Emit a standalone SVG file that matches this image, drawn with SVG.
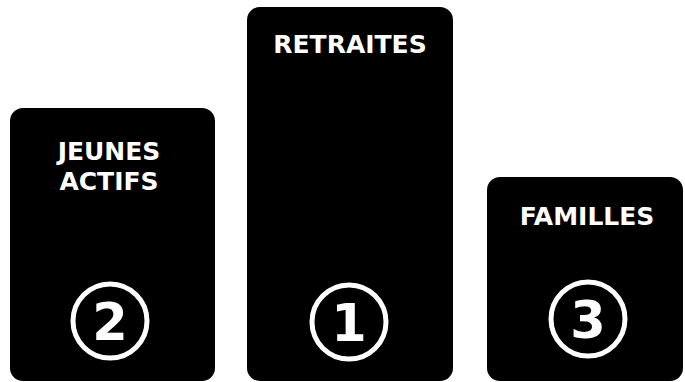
<svg xmlns="http://www.w3.org/2000/svg" width="685" height="382" viewBox="0 0 685 382">
<style>
.box{fill:#000}
.lbl{fill:#fff;font-family:"DejaVu Sans",Verdana,sans-serif;font-weight:bold;font-size:25px;text-anchor:middle}
.ring{fill:none;stroke:#fff;stroke-width:5}
.num{fill:#fff;font-family:"DejaVu Sans",Verdana,sans-serif;font-weight:bold;font-size:51px;text-anchor:middle}
</style>
<rect width="685" height="382" fill="#fff"/>
<g id="node-jeunes-actifs">
<rect class="box" x="10" y="108" width="205" height="273" rx="13"/>
<text class="lbl" x="109" y="160">JEUNES</text>
<text class="lbl" x="109" y="190">ACTIFS</text>
<circle class="ring" cx="110" cy="321" r="37"/>
<text class="num" x="110" y="340">2</text>
</g>
<g id="node-retraites">
<rect class="box" x="247" y="7" width="206" height="374" rx="13"/>
<text class="lbl" x="350" y="53">RETRAITES</text>
<circle class="ring" cx="349" cy="322" r="37"/>
<text class="num" x="349" y="341">1</text>
</g>
<g id="node-familles">
<rect class="box" x="487" y="177" width="196" height="204" rx="13"/>
<text class="lbl" x="587" y="225">FAMILLES</text>
<circle class="ring" cx="588" cy="319" r="37"/>
<text class="num" x="588" y="338">3</text>
</g>
<g id="connectors"></g>
</svg>
